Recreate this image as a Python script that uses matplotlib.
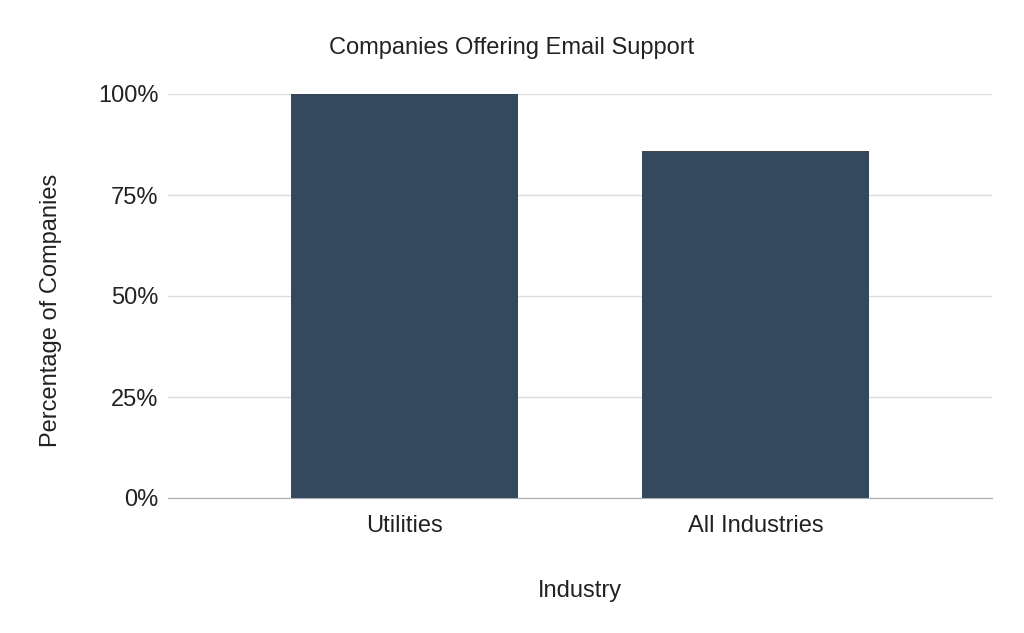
import matplotlib
matplotlib.use("Agg")
from matplotlib import pyplot as plt
from matplotlib.ticker import FuncFormatter

# data
industries = ["Utilities", "All Industries"]
pct_email = [100, 86]
yticks = [0, 25, 50, 75, 100]

plt.rcParams['font.family'] = ['Liberation Sans', 'DejaVu Sans']

fig = plt.figure(figsize=(10.24, 6.33), dpi=100)
ax = fig.add_axes([168/1024, 1-498/633, (992-168)/1024, (498-94)/633])

x = list(range(len(industries)))
ax.bar(x, pct_email, width=0.647, color="#34495e", zorder=3)

ax.set_xlim(-0.674, 1.674)
ax.set_ylim(0, 100)
ax.set_xticks(x)
ax.set_xticklabels(industries, fontsize=17)
ax.set_yticks(yticks)
ax.yaxis.set_major_formatter(FuncFormatter(lambda v, p: "%d%%" % v))
ax.tick_params(axis='y', labelsize=17, length=0, pad=7)
ax.tick_params(axis='x', length=0, pad=12)
for t in ax.get_yticklabels() + ax.get_xticklabels():
    t.set_color("#222222")

ax.grid(axis='y', color="#dddddd", linewidth=1, zorder=0)
for s in ["top", "right", "left"]:
    ax.spines[s].set_visible(False)
ax.spines["bottom"].set_color("#aaaaaa")
ax.spines["bottom"].set_zorder(4)

ax.set_xlabel("Industry", fontsize=17, labelpad=31, color="#222222")
ax.set_ylabel("Percentage of Companies", fontsize=17, labelpad=26, color="#222222", y=0.465)
fig.text(0.5, 1-48/633, "Companies Offering Email Support", ha="center", va="center",
         fontsize=17, color="#222222")

fig.savefig("out.png", dpi=100)
